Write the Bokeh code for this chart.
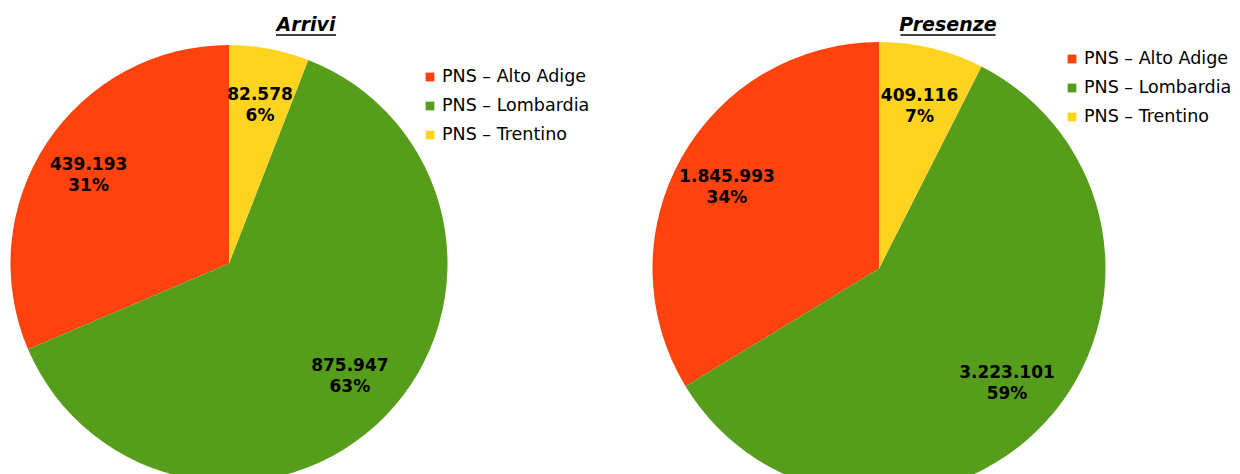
import math
from bokeh.plotting import figure
from bokeh.models import Range1d, ColumnDataSource, Legend, LegendItem
from bokeh.core.properties import value
from bokeh.embed import file_html
from bokeh.resources import INLINE

# ---- data ----
categories = ["PNS \u2013 Alto Adige", "PNS \u2013 Lombardia", "PNS \u2013 Trentino"]
colors = ["#ff420e", "#579d1c", "#ffd320"]
arrivi = [439193, 875947, 82578]
presenze = [1845993, 3223101, 409116]
titles = ["Arrivi", "Presenze"]

W, H = 1240, 474
p = figure(width=W, height=H, x_range=Range1d(0, W), y_range=Range1d(0, H),
           output_backend="svg", toolbar_location=None, min_border=0,
           outline_line_color=None, match_aspect=False)
p.axis.visible = False
p.grid.visible = False
p.background_fill_color = "white"
p.border_fill_color = "white"


def fmt(v):
    return f"{v:,}".replace(",", ".")


def pie(vals, cx, cy, r, title, tx, ty, uw, leg_loc):
    total = sum(vals)
    starts, ends, lx, ly, labels = [], [], [], [], []
    a = math.pi / 2
    for v in vals:
        da = v / total * 2 * math.pi
        starts.append(a)
        ends.append(a + da)
        mid = a + da / 2
        lx.append(cx + 0.77 * r * math.cos(mid))
        ly.append(cy + 0.74 * r * math.sin(mid))
        labels.append(f"{fmt(v)}\n{round(v / total * 100)}%")
        a += da
    src = ColumnDataSource(dict(start=starts, end=ends, color=colors, cat=categories,
                                lx=lx, ly=ly, label=labels))
    w = p.wedge(x=cx, y=cy, radius=r, start_angle="start", end_angle="end",
                fill_color="color", line_color=None, direction="anticlock", source=src)
    p.text(x="lx", y="ly", text="label", source=src, text_align="center",
           text_baseline="middle", text_font=value("DejaVu Sans"),
           text_font_style="bold", text_font_size="17px", text_color="black",
           text_line_height=1.05)
    p.text(x=[tx], y=[ty], text=[title], text_align="center", text_baseline="middle",
           text_font=value("DejaVu Sans"), text_font_style="bold italic",
           text_font_size="19px", text_color="black")
    p.segment(x0=[tx - uw / 2], y0=[ty - 11.5], x1=[tx + uw / 2], y1=[ty - 11.5],
              line_color="black", line_width=1.5)
    items = [LegendItem(label=categories[i], renderers=[w], index=i) for i in range(3)]
    leg = Legend(items=items, location=leg_loc, orientation="vertical",
                 label_text_font="DejaVu Sans", label_text_font_size="17.5px",
                 label_text_color="black", glyph_width=11, glyph_height=11,
                 label_standoff=7, spacing=8, padding=0, margin=0,
                 border_line_color=None, background_fill_alpha=0,
                 label_height=21)
    p.add_layout(leg, "center")


pie(arrivi, 228.5, H - 263, 218.5, titles[0], 305.5, H - 23, 60, (424, H - 144.5))
pie(presenze, 878.5, H - 268, 226.5, titles[1], 947.5, H - 23, 95, (1066, H - 126.5))

open("out.html", "w").write(file_html(p, INLINE))
